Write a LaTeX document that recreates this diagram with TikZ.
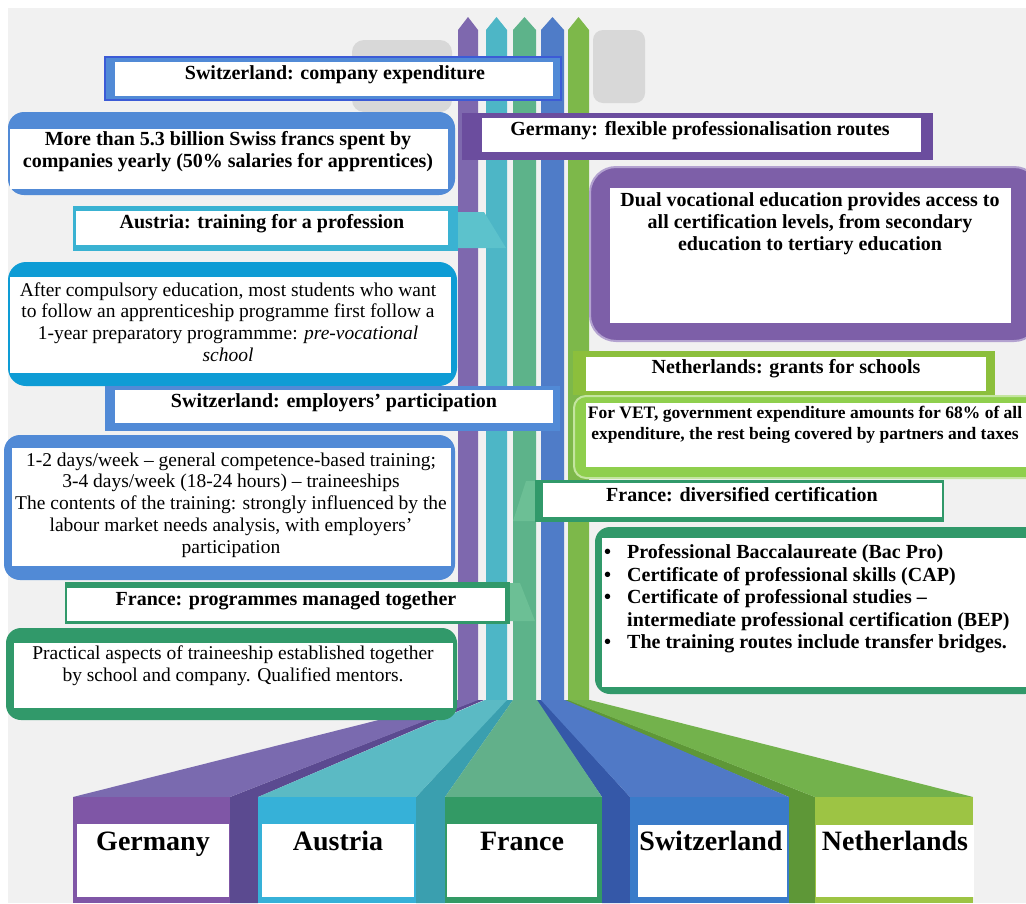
\documentclass[tikz,border=0pt]{standalone}
\usepackage{fontspec}
\setmainfont{Liberation Serif}
\definecolor{bgc}{HTML}{F1F1F1}
\definecolor{grayc}{HTML}{D8D8D8}
\definecolor{cpur}{HTML}{7E68AE}
\definecolor{cteal}{HTML}{4DB6C6}
\definecolor{cgrn}{HTML}{5DB38A}
\definecolor{cblu}{HTML}{4F7CC8}
\definecolor{clgr}{HTML}{7DB84A}
\definecolor{swblue}{HTML}{518AD6}
\definecolor{swedge}{HTML}{3C5BD6}
\definecolor{gpurband}{HTML}{6B4D9E}
\definecolor{gpurbox}{HTML}{7D5FA8}
\definecolor{gpuredge}{HTML}{B3A2D0}
\definecolor{atband}{HTML}{3AB2D2}
\definecolor{attab}{HTML}{5CC2CC}
\definecolor{atbox}{HTML}{0E9CD5}
\definecolor{frgrn}{HTML}{31996A}
\definecolor{frtab}{HTML}{6CBF95}
\definecolor{nlband}{HTML}{8CBF3C}
\definecolor{nlbox}{HTML}{8FCF4D}
\definecolor{nledge}{HTML}{C4E5A0}
% ribbons
\definecolor{gtop}{HTML}{7A6AAF}\definecolor{gfront}{HTML}{7F56A6}\definecolor{gside}{HTML}{5B4A90}
\definecolor{atop}{HTML}{5BBAC4}\definecolor{afront}{HTML}{36B1D8}\definecolor{aside}{HTML}{3A9FAF}
\definecolor{ftop}{HTML}{62B08A}\definecolor{ffront}{HTML}{339A65}
\definecolor{stop}{HTML}{5079C6}\definecolor{sfront}{HTML}{3A7BC9}\definecolor{sside}{HTML}{3558A8}
\definecolor{ntop}{HTML}{73B24C}\definecolor{nfront}{HTML}{9DC444}\definecolor{nside}{HTML}{5E9737}
\begin{document}
\begin{tikzpicture}[x=1pt,y=-1pt,
  bt/.style={font=\fontsize{20}{22}\selectfont\bfseries, align=center, inner sep=0pt},
  bts/.style={font=\fontsize{17.5}{21}\selectfont\bfseries, align=center, inner sep=0pt},
  rt/.style={font=\fontsize{19.5}{21.8}\selectfont, align=center, inner sep=0pt},
  lab/.style={font=\fontsize{28}{30}\selectfont\bfseries, inner sep=0pt, anchor=base}]
\useasboundingbox (0,0) rectangle (1026,903);
\fill[white] (0,0) rectangle (1026,903);
\fill[bgc] (8,8) rectangle (1026,903);
% grey background shapes
\fill[grayc, rounded corners=12] (352,40) rectangle (452,112);
\fill[grayc, rounded corners=10] (593,30) rectangle (645,103);
% vertical bars
\fill[cpur] (458,30) -- (468,17) -- (478,30) -- (478,702) -- (458,702) -- cycle;
\fill[cteal] (486,30) -- (496.5,17) -- (507,30) -- (507,702) -- (486,702) -- cycle;
\fill[cgrn] (513,30) -- (524.5,17) -- (536,30) -- (536,702) -- (513,702) -- cycle;
\fill[cblu] (541,30) -- (552.5,17) -- (564,30) -- (564,702) -- (541,702) -- cycle;
\fill[clgr] (568,30) -- (578.5,17) -- (589,30) -- (589,702) -- (568,702) -- cycle;
% bottom ribbons
% Germany
\fill[gside] (477,700) -- (484,700) -- (258,797) -- (258,903) -- (230,903) -- (230,797) -- cycle;
\fill[gtop] (458,700) -- (478,700) -- (230,797) -- (73,797) -- cycle;
\fill[gfront] (73,797) rectangle (230,903);
% Netherlands
\fill[nside] (562,700) -- (569,700) -- (815,797) -- (815,903) -- (789,903) -- (789,797) -- cycle;
\fill[ntop] (568,700) -- (590,700) -- (973,797) -- (815,797) -- cycle;
\fill[nfront] (815,797) rectangle (973,903);
% Austria
\fill[aside] (506,700) -- (513,700) -- (445,797) -- (445,903) -- (416,903) -- (416,797) -- cycle;
\fill[atop] (485,700) -- (507,700) -- (416,797) -- (258,797) -- cycle;
\fill[afront] (258,797) rectangle (416,903);
% Switzerland
\fill[sside] (536,700) -- (542,700) -- (630,797) -- (630,903) -- (602,903) -- (602,797) -- cycle;
\fill[stop] (541,700) -- (565,700) -- (789,797) -- (630,797) -- cycle;
\fill[sfront] (630,797) rectangle (789,903);
% France
\fill[ftop] (513,700) -- (537,700) -- (602,797) -- (445,797) -- cycle;
\fill[ffront] (445,797) rectangle (602,903);
% bottom labels
\fill[white] (77,824) rectangle (229,897);
\fill[white] (262,824) rectangle (414,897);
\fill[white] (447,824) rectangle (597,897);
\fill[white] (638,825) rectangle (787,897);
\fill[white] (816,825) rectangle (974,897);
\node[lab] (lger) at (153,850) {Germany};
\node[lab] (laut) at (338,850) {Austria};
\node[lab] (lfra) at (522,850) {France};
\node[lab] (lswi) at (711,850) {Switzerland};
\node[lab] (lnet) at (895,850) {Netherlands};
% ---------- left column ----------
% Switzerland: company expenditure
\fill[swblue, draw=swedge, line width=1.5pt] (105,57) rectangle (561,100);
\fill[white] (115,62) rectangle (553,96);
\node[bt] (swce) at (335,75) {Switzerland: company expenditure};
% Swiss box 1
\fill[swblue, rounded corners=16] (8,112) rectangle (455,195);
\fill[white] (10,129) rectangle (448,189);
\node[bt] (swtxt1) at (228,152) {More than 5.3 billion Swiss francs spent by\\companies yearly (50\% salaries for apprentices)};
% Austria band
\fill[attab] (455,212) -- (484,212) -- (506,248) -- (455,248) -- cycle;
\fill[atband] (73,206) rectangle (458,251);
\fill[white] (76,211) rectangle (448,245);
\node[bt] (attr) at (262,224) {Austria: training for a profession};
% Austria box
\fill[atbox, rounded corners=18] (8,262) rectangle (457,386);
\fill[white] (10,277) rectangle (451,373);
\node[rt] (attxt) at (228,322) {After compulsory education, most students who want\\to follow an apprenticeship programme first follow a\\1-year preparatory programmme: \textit{pre-vocational}\\\textit{school}};
% Switzerland employers
\fill[swblue] (105,386) rectangle (560,431);
\fill[white] (115,390) rectangle (553,423);
\node[bt] (swep) at (334,403) {Switzerland: employers’ participation};
% Swiss box 2
\fill[swblue, rounded corners=16] (4,435) rectangle (455,580);
\fill[white] (12,448) rectangle (451,566);
\node[rt] (swtxt2) at (231,505) {1-2 days/week – general competence-based training;\\3-4 days/week (18-24 hours) – traineeships\\The contents of the training: strongly influenced by the\\labour market needs analysis, with employers’\\participation};
% France programmes band
\fill[frtab] (505,583) -- (520,583) -- (535,621) -- (505,621) -- cycle;
\fill[frgrn] (65,582) rectangle (510,624);
\fill[white] (67,588) rectangle (505,621);
\node[bt] (frpm) at (286,601) {France: programmes managed together};
% France box left
\fill[frgrn, rounded corners=15] (6,628) rectangle (457,720);
\fill[white] (14,643) rectangle (453,708);
\node[rt] (frtxt1) at (233,666) {Practical aspects of traineeship established together\\by school and company. Qualified mentors.};
% ---------- right column ----------
% Germany band
\fill[gpurband] (462,113) rectangle (933,160);
\fill[white] (482,118) rectangle (921,152);
\node[bt] (gefl) at (700,131) {Germany: flexible professionalisation routes};
% Germany box
\fill[gpurbox, draw=gpuredge, line width=2pt, rounded corners=26] (590,167) rectangle (1040,341);
\fill[white] (610,188) rectangle (1011,323);
\node[bt] (getxt) at (810,224) {Dual vocational education provides access to\\all certification levels, from secondary\\education to tertiary education};
% Netherlands band
\fill[nlband] (573,351) rectangle (995,395);
\fill[white] (586,357) rectangle (986,391);
\node[bt] (nlgr) at (786,369) {Netherlands: grants for schools};
% Netherlands box
\fill[nlbox, draw=nledge, line width=2pt, rounded corners=12] (574,396) rectangle (1040,478);
\fill[white] (586,403) rectangle (1026,467);
\node[bts] (nltxt) at (805,425) {For VET, government expenditure amounts for 68\% of all\\expenditure, the rest being covered by partners and taxes};
% France diversified band
\fill[frtab] (526,481) -- (535,481) -- (535,521) -- (513,521) -- cycle;
\fill[frgrn] (535,480) rectangle (944,522);
\fill[white] (543,483) rectangle (942,517);
\node[bt] (frdc) at (742,495) {France: diversified certification};
% France box right
\fill[frgrn, rounded corners=15] (595,527) rectangle (1040,694);
\fill[white] (602,538) rectangle (1026,687);
\node[font=\fontsize{20}{22.5}\selectfont\bfseries, inner sep=0pt, align=left, anchor=north west] (frlist) at (604,543) {%
\begin{tabular}{@{}p{18pt}@{\hspace{5pt}}l@{}}
\textbullet & Professional Baccalaureate (Bac Pro)\\
\textbullet & Certificate of professional skills (CAP)\\
\textbullet & Certificate of professional studies –\\
 & intermediate professional certification (BEP)\\
\textbullet & The training routes include transfer bridges.
\end{tabular}};
\end{tikzpicture}
\end{document}
